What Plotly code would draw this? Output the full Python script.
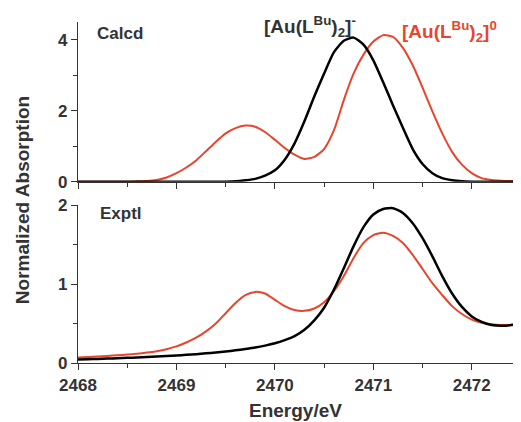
import plotly.graph_objects as go

energy = [round(2468.0 + 0.1 * i, 1) for i in range(46)]

calcd_anion = [0, 0, 0, 0, 0, 0, 0, 0, 0, 0,
               0, 0, 0, 0, 0, 0, 0.01, 0.04, 0.08, 0.17,
               0.32, 0.62, 1.08, 1.70, 2.40, 3.05, 3.65, 3.97, 4.06, 3.86,
               3.42, 2.80, 2.15, 1.52, 0.92, 0.50, 0.24, 0.10, 0.04, 0.01,
               0, 0, 0, 0, 0, 0]

calcd_neutral = [0, 0, 0, 0, 0, 0, 0.01, 0.02, 0.05, 0.12,
                 0.24, 0.40, 0.60, 0.86, 1.12, 1.36, 1.51, 1.58, 1.55, 1.40,
                 1.18, 0.95, 0.76, 0.64, 0.70, 0.92, 1.45, 2.30, 3.05, 3.58,
                 3.95, 4.13, 4.08, 3.77, 3.28, 2.65, 1.98, 1.36, 0.84, 0.48,
                 0.24, 0.10, 0.05, 0.03, 0.02, 0.02]

exptl_anion = [0.045, 0.048, 0.052, 0.056, 0.060, 0.065, 0.070, 0.076, 0.082, 0.088,
               0.095, 0.103, 0.112, 0.122, 0.133, 0.146, 0.160, 0.177, 0.196, 0.22,
               0.25, 0.29, 0.34, 0.42, 0.54, 0.70, 0.93, 1.20, 1.48, 1.72,
               1.88, 1.95, 1.96, 1.90, 1.77, 1.58, 1.35, 1.10, 0.88, 0.71,
               0.59, 0.52, 0.48, 0.47, 0.48, 0.52]

exptl_neutral = [0.07, 0.076, 0.083, 0.09, 0.098, 0.107, 0.118, 0.132, 0.15, 0.175,
                 0.21, 0.26, 0.32, 0.40, 0.50, 0.63, 0.76, 0.86, 0.90, 0.88,
                 0.80, 0.72, 0.67, 0.66, 0.69, 0.77, 0.91, 1.10, 1.33, 1.52,
                 1.62, 1.65, 1.61, 1.52, 1.37, 1.19, 1.01, 0.86, 0.72, 0.62,
                 0.55, 0.51, 0.49, 0.48, 0.48, 0.48]

x_ticks = [2468, 2469, 2470, 2471, 2472]
top_y_ticks = [0, 2, 4]
bottom_y_ticks = [0, 1, 2]

RED = "#E8452C"
BLACK = "#000000"
GRAY = "#333333"
FONT = "Liberation Sans"

fig = go.Figure()
line_shape = dict(shape="spline", smoothing=0.6)
fig.add_trace(go.Scatter(x=energy, y=calcd_neutral, mode="lines",
                         line=dict(color=RED, width=2, **line_shape),
                         xaxis="x", yaxis="y", showlegend=False))
fig.add_trace(go.Scatter(x=energy, y=calcd_anion, mode="lines",
                         line=dict(color=BLACK, width=2.5, **line_shape),
                         xaxis="x", yaxis="y", showlegend=False))
fig.add_trace(go.Scatter(x=energy, y=exptl_neutral, mode="lines",
                         line=dict(color=RED, width=2, **line_shape),
                         xaxis="x2", yaxis="y2", showlegend=False))
fig.add_trace(go.Scatter(x=energy, y=exptl_anion, mode="lines",
                         line=dict(color=BLACK, width=2.5, **line_shape),
                         xaxis="x2", yaxis="y2", showlegend=False))

tickfont = dict(family=FONT, size=17, color=GRAY, weight="bold")
common_x = dict(range=[2468, 2472.5], tickvals=x_ticks, ticks="outside", ticklen=6,
                tickwidth=1.3, tickcolor=GRAY, showline=True, linecolor=GRAY,
                linewidth=1.3, showgrid=False, zeroline=False, tickfont=tickfont,
                minor=dict(dtick=0.5, tick0=2468, ticks="outside", ticklen=4,
                           tickcolor=GRAY, tickwidth=1, showgrid=False))
common_y = dict(ticks="outside", ticklen=6, tickwidth=1.3, tickcolor=GRAY,
                showline=True, linecolor=GRAY, linewidth=1.3, showgrid=False,
                zeroline=False, tickfont=tickfont)

# page body has an 8px default margin, so the figure is sized to end at 521x422
fig.update_layout(
    width=513, height=414,
    margin=dict(l=70, r=0, t=14, b=59),
    paper_bgcolor="white", plot_bgcolor="white",
    xaxis=dict(domain=[0, 1], anchor="y", showticklabels=False, **common_x),
    yaxis=dict(domain=[0.5317, 1.0], anchor="x", range=[0, 4.5], tickvals=top_y_ticks,
               minor=dict(dtick=1, tick0=0, ticks="outside", ticklen=4, tickcolor=GRAY,
                          tickwidth=1, showgrid=False),
               **common_y),
    xaxis2=dict(domain=[0, 1], anchor="y2", showticklabels=True, **common_x),
    yaxis2=dict(domain=[0, 0.4633], anchor="x2", range=[0, 2], tickvals=bottom_y_ticks,
                minor=dict(dtick=0.5, tick0=0, ticks="outside", ticklen=4, tickcolor=GRAY,
                           tickwidth=1, showgrid=False),
                **common_y),
)

ann_font = dict(family=FONT, size=17, color=GRAY, weight="bold")
fig.add_annotation(text="Calcd", xref="paper", yref="paper", x=0.038, y=0.965,
                   xanchor="left", yanchor="middle", showarrow=False, font=ann_font)
fig.add_annotation(text="Exptl", xref="paper", yref="paper", x=0.045, y=0.437,
                   xanchor="left", yanchor="middle", showarrow=False, font=ann_font)
fig.add_annotation(text="[Au(L<sup>Bu</sup>)<sub>2</sub>]<sup>-</sup>", xref="paper", yref="paper",
                   x=0.415, y=0.988, xanchor="left", yanchor="middle", showarrow=False,
                   font=dict(family=FONT, size=19, color=GRAY, weight="bold"))
fig.add_annotation(text="[Au(L<sup>Bu</sup>)<sub>2</sub>]<sup>0</sup>", xref="paper", yref="paper",
                   x=0.727, y=0.971, xanchor="left", yanchor="middle", showarrow=False,
                   font=dict(family=FONT, size=19, color=RED, weight="bold"))
fig.add_annotation(text="Normalized Absorption", xref="paper", yref="paper",
                   x=-0.126, y=0.478, xanchor="center", yanchor="middle", textangle=-90,
                   showarrow=False, font=dict(family=FONT, size=19, color=GRAY, weight="bold"))
fig.add_annotation(text="Energy/eV", xref="paper", yref="paper",
                   x=0.49, y=-0.138, xanchor="center", yanchor="middle",
                   showarrow=False, font=dict(family=FONT, size=19, color=GRAY, weight="bold"))

fig.write_html("out.html")
